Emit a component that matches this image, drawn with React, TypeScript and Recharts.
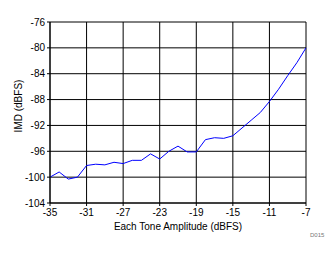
import React from 'react';
import { LineChart, Line, XAxis, YAxis, CartesianGrid } from 'recharts';

// Each tone amplitude (dBFS)
const amplitude = [
  -35, -34, -33, -32, -31, -30, -29, -28, -27, -26, -25, -24, -23, -22, -21,
  -20, -19, -18, -17, -16, -15, -14, -13, -12, -11, -10, -9, -8, -7,
];

// IMD (dBFS)
const imd = [
  -100, -99.2, -100.3, -100, -98.2, -98, -98.1, -97.7, -97.9, -97.4, -97.4, -96.4, -97.2, -96, -95.2,
  -96.1, -96.1, -94.2, -93.9, -94, -93.6, -92.4, -91.2, -90, -88.3, -86.4, -84.3, -82.3, -80,
];

const xTicks = [-35, -31, -27, -23, -19, -15, -11, -7];
const yTicks = [-104, -100, -96, -92, -88, -84, -80, -76];

const data = amplitude.map((x, i) => ({ x, imd: imd[i] }));

const FONT = '"Liberation Sans", Arial, sans-serif';
const tickStyle = { fontSize: 10, fill: '#000', fontFamily: FONT };

// rotated y label, placed a bit above plot centre like the original
const YLabel = () => (
  <text
    x={18}
    y={106}
    transform="rotate(-90, 18, 106)"
    textAnchor="middle"
    dominantBaseline="central"
    fontSize={10}
    fill="#000"
    fontFamily={FONT}
  >
    IMD (dBFS)
  </text>
);

export default function App() {
  return (
    <div style={{ position: 'absolute', left: 0, top: 0, width: 334, height: 254, background: '#fff' }}>
      <LineChart width={334} height={254} data={data} margin={{ top: 22, right: 28, left: 0, bottom: 21 }}>
        <CartesianGrid stroke="#000" strokeWidth={1} fill="none" />
        <XAxis
          dataKey="x"
          type="number"
          domain={[-35, -7]}
          ticks={xTicks}
          height={30}
          tick={tickStyle}
          tickSize={3}
          tickMargin={3}
          stroke="#000"
          label={{ value: 'Each Tone Amplitude (dBFS)', position: 'insideBottom', offset: 3, style: { fontSize: 10, fill: '#000', fontFamily: FONT } }}
        />
        <YAxis
          type="number"
          domain={[-104, -76]}
          ticks={yTicks}
          width={50}
          tick={tickStyle}
          tickSize={3}
          tickMargin={2}
          stroke="#000"
          label={{ content: () => <YLabel /> }}
        />
        <Line
          dataKey="imd"
          type="linear"
          stroke="#0000ff"
          strokeWidth={1}
          dot={false}
          isAnimationActive={false}
        />
      </LineChart>
      <div style={{ position: 'absolute', left: 310, top: 232, fontSize: 6, color: '#777', fontFamily: FONT }}>D015</div>
    </div>
  );
}
